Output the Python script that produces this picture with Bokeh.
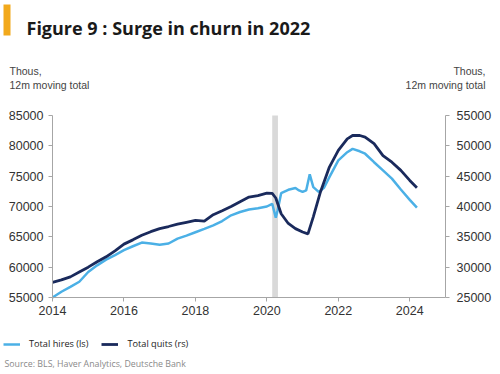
from bokeh.plotting import figure
from bokeh.models import (Range1d, LinearAxis, FixedTicker, BoxAnnotation, Label,
                          Legend, LegendItem)
from bokeh.embed import file_html
from bokeh.resources import INLINE

# ---- data (decimal years) ----
hires_t = [2014.0, 2014.25, 2014.5, 2014.75, 2015.0, 2015.25, 2015.5, 2015.75, 2016.0, 2016.25,
           2016.5, 2016.75, 2017.0, 2017.25, 2017.5, 2017.75, 2018.0, 2018.25, 2018.5, 2018.75,
           2019.0, 2019.25, 2019.5, 2019.75, 2020.0, 2020.15, 2020.25, 2020.3, 2020.4, 2020.6,
           2020.8, 2020.9, 2021.0, 2021.1, 2021.2, 2021.3, 2021.45, 2021.6, 2021.75, 2022.0,
           2022.25, 2022.4, 2022.6, 2022.75, 2023.0, 2023.25, 2023.5, 2023.75, 2024.0, 2024.2]
hires_v = [55000, 55950, 56750, 57600, 59200, 60300, 61250, 62000, 62800, 63450,
           64050, 63900, 63700, 63900, 64700, 65200, 65750, 66300, 66900, 67600,
           68550, 69100, 69500, 69700, 70000, 70450, 68150, 69350, 72200, 72750,
           73050, 72650, 72400, 72650, 75300, 73200, 72400, 73100, 74850, 77600,
           78950, 79500, 79100, 78700, 77300, 75950, 74600, 72800, 71100, 69800]

quits_t = [2014.0, 2014.25, 2014.5, 2014.75, 2015.0, 2015.25, 2015.5, 2015.75, 2016.0, 2016.25,
           2016.5, 2016.75, 2017.0, 2017.25, 2017.5, 2017.75, 2018.0, 2018.25, 2018.5, 2018.75,
           2019.0, 2019.25, 2019.5, 2019.75, 2020.0, 2020.15, 2020.25, 2020.4, 2020.6, 2020.8,
           2021.0, 2021.15, 2021.3, 2021.5, 2021.75, 2022.0, 2022.25, 2022.4, 2022.6, 2022.75,
           2023.0, 2023.25, 2023.5, 2023.75, 2024.0, 2024.2]
quits_v = [27500, 27900, 28400, 29200, 30000, 30900, 31700, 32700, 33800, 34500,
           35250, 35850, 36350, 36700, 37100, 37400, 37700, 37600, 38650, 39300,
           40000, 40800, 41550, 41800, 42200, 42150, 41400, 38800, 37200, 36350,
           35800, 35500, 38300, 42400, 46500, 49250, 51150, 51700, 51700, 51450,
           50350, 48400, 47300, 45950, 44300, 43100]

x_ticks = [2014, 2016, 2018, 2020, 2022, 2024]
x_bounds = (2014, 2025)
left_ticks = [55000, 60000, 65000, 70000, 75000, 80000, 85000]
right_ticks = [25000, 30000, 35000, 40000, 45000, 50000, 55000]
recession = [2020.15, 2020.31]

title_text = "Figure 9 : Surge in churn in 2022"
unit_lines = ["Thous,", "12m moving total"]
source_text = "Source: BLS, Haver Analytics, Deutsche Bank"
legend_labels = ["Total hires (ls)", "Total quits (rs)"]

HIRES = "#4BB0E6"
QUITS = "#1A2A5C"
AXIS = "#A6A6A6"
TICKTXT = "#333333"

# ---- layout (pixels) ----
W, H = 500, 374
PX_L, PX_R, PY_T, PY_B = 52, 445, 115, 297   # chart area inside the canvas

lo_l, hi_l = left_ticks[0], left_ticks[-1]
lo_r, hi_r = right_ticks[0], right_ticks[-1]
xs = (x_bounds[1] - x_bounds[0]) / (PX_R - PX_L)
ys = (hi_l - lo_l) / (PY_B - PY_T)
x_range = Range1d(x_bounds[0] - PX_L * xs, x_bounds[1] + (W - PX_R) * xs)
y_range = Range1d(lo_l - (H - PY_B) * ys, hi_l + PY_T * ys)
off = lo_l - lo_r
r_range = Range1d(y_range.start - off, y_range.end - off)

p = figure(width=W, height=H, output_backend="svg", toolbar_location=None,
           x_range=x_range, y_range=y_range, min_border=0,
           x_axis_location=None, y_axis_location=None)
p.outline_line_color = None
p.xgrid.visible = False
p.ygrid.visible = False
p.extra_y_ranges = {"right": r_range}

# recession band
p.add_layout(BoxAnnotation(left=recession[0], right=recession[1], top=hi_l, bottom=lo_l,
                           fill_color="#D9D9D9", fill_alpha=1.0, line_color=None,
                           level="underlay"))

r_h = p.line(hires_t, hires_v, color=HIRES, line_width=2.5)
r_q = p.line(quits_t, quits_v, color=QUITS, line_width=2.8, y_range_name="right")

def style(ax):
    ax.axis_line_color = AXIS
    ax.major_tick_line_color = AXIS
    ax.minor_tick_line_color = None
    ax.major_tick_in = 0
    ax.major_tick_out = 4
    ax.major_label_text_font = "Liberation Sans"
    ax.major_label_text_font_size = "12.5px"
    ax.major_label_text_color = TICKTXT

xa = LinearAxis(ticker=FixedTicker(ticks=x_ticks), bounds=x_bounds, fixed_location=lo_l)
style(xa)
xa.major_label_standoff = 4
p.add_layout(xa, "below")

ya = LinearAxis(ticker=FixedTicker(ticks=left_ticks), bounds=(lo_l, hi_l),
                fixed_location=x_bounds[0])
style(ya)
ya.major_label_standoff = 5
p.add_layout(ya, "left")

ra = LinearAxis(y_range_name="right", ticker=FixedTicker(ticks=right_ticks),
                bounds=(lo_r, hi_r), fixed_location=x_bounds[1])
style(ra)
ra.major_label_standoff = 7
p.add_layout(ra, "right")

# ---- texts (screen px, origin bottom-left of canvas) ----
def lab(text, xp, yp, size, color, font="Open Sans", style_="normal", align="left",
        baseline="alphabetic"):
    p.add_layout(Label(x=xp, y=H - yp, x_units="screen", y_units="screen", text=text,
                       text_font=font, text_font_size=size, text_color=color,
                       text_font_style=style_, text_align=align, text_baseline=baseline))

p.add_layout(BoxAnnotation(left=3, right=10, top=H - 4, bottom=H - 35,
                           left_units="screen", right_units="screen", top_units="screen",
                           bottom_units="screen", fill_color="#F2A91C", fill_alpha=1.0,
                           line_color=None))
lab(title_text, 26, 27, "18px", "#1A1A1A", style_="bold")
lab(unit_lines[0], 9, 70, "10.5px", "#444444", font="Liberation Sans")
lab(unit_lines[1], 9, 84, "10.5px", "#444444", font="Liberation Sans")
lab(unit_lines[0], 485, 70, "10.5px", "#444444", font="Liberation Sans", align="right")
lab(unit_lines[1], 485, 84, "10.5px", "#444444", font="Liberation Sans", align="right")
lab(source_text, 4, 363, "8.8px", "#8A8A8A", baseline="middle")

legend = Legend(items=[LegendItem(label=legend_labels[0], renderers=[r_h]),
                       LegendItem(label=legend_labels[1], renderers=[r_q])],
                orientation="horizontal", location=(3, 24),
                label_text_font="Open Sans", label_text_font_size="9.2px",
                label_text_color="#222222", glyph_width=17, glyph_height=10,
                label_standoff=9, spacing=13, padding=0, margin=0,
                background_fill_alpha=0, border_line_color=None, label_height=12)
p.add_layout(legend, "center")

open("out.html", "w").write(file_html(p, INLINE))
